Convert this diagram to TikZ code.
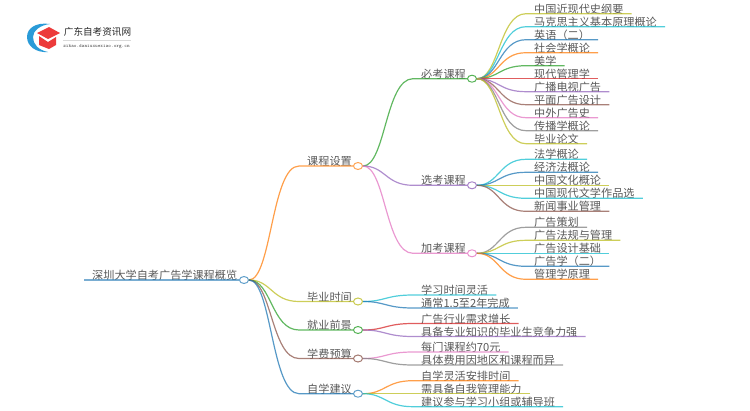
\documentclass[tikz,border=0pt]{standalone}
\usepackage{fontspec}
\setmainfont{Noto Sans CJK SC}
\usepackage{tikz}
\usetikzlibrary{calc,shapes.geometric}

\definecolor{cblue}{HTML}{1F77B4}
\definecolor{corange}{HTML}{FF7F0E}
\definecolor{cgreen}{HTML}{2CA02C}
\definecolor{cred}{HTML}{D62728}
\definecolor{cpurple}{HTML}{9467BD}
\definecolor{cbrown}{HTML}{8C564B}
\definecolor{cpink}{HTML}{E377C2}
\definecolor{cgray}{HTML}{7F7F7F}
\definecolor{colive}{HTML}{BCBD22}
\definecolor{ccyan}{HTML}{17BECF}
\definecolor{clogo}{HTML}{2A9BD8}
\definecolor{ccap}{HTML}{EC3B3B}

\begin{document}
\begin{tikzpicture}[
  x=1pt,
  y=-1pt
]

  \path[use as bounding box] (0,0) rectangle (750,410);

  \tikzstyle{topic}=[anchor=south west,inner xsep=8pt,inner ysep=0pt,text depth=.3pt,font=\fontsize{11.15pt}{13pt}\selectfont,text=black!65]
  \tikzstyle{dot}=[draw,ellipse,fill=white,line width=1pt,minimum width=9pt,minimum height=7pt,inner sep=0pt]
  \tikzstyle{link}=[draw,line width=1.2pt,opacity=.75,to path={let \p1=(\tikztostart), \p2=(\tikztotarget) in .. controls ({.5*(\x1+\x2)},\y1) and ({.5*(\x1+\x2)},\y2) .. (\tikztotarget)}]

  % logo
  \fill[clogo] (50,24) .. controls (36,22) and (27,28) .. (27,37) .. controls (27,46) and (36,53) .. (48,52) .. controls (38,50) and (33,44) .. (33,37) .. controls (33,31) and (40,25) .. (50,24) -- cycle;
  \fill[ccap] (37,33) -- (49,27) -- (60,33) -- (48,39) -- cycle;
  \fill[ccap] (39,36) -- (48,42) -- (56,37) -- (56,45) -- (49,49) -- (39,45) -- cycle;
  \node[font=\fontsize{9.6pt}{12pt}\selectfont,text=black!85,inner sep=0pt] (logotitle) at (97.5,32) {广东自考资讯网};
  \node[font=\fontsize{5pt}{6pt}\ttfamily,text=black!70,inner sep=0pt] (logourl) at (96.5,46.7) {zikao.daniuxuexiao.org.cn};
  \coordinate (logoa) at (63,40.5);
  \coordinate (logob) at (131,40.5);
  \draw[black!15,line width=.5pt] (logoa) -- (logob);

  % nodes
  \node[topic] (root) at (84,280) {深圳大学自考广告学课程概览};
  \node[dot,draw=cblue!70] (rootdot) at (244,280) {};

  \node[topic] (plan) at (299,166) {课程设置};
  \node[dot,draw=corange!70] (plandot) at (358,166) {};
  \node[topic] (grad) at (299,301.5) {毕业时间};
  \node[dot,draw=colive!80] (graddot) at (358,301.5) {};
  \node[topic] (job) at (299,330) {就业前景};
  \node[dot,draw=cgreen!80] (jobdot) at (358,330) {};
  \node[topic] (fee) at (299,358.5) {学费预算};
  \node[dot,draw=cbrown!80] (feedot) at (358,358.5) {};
  \node[topic] (tip) at (299,393.7) {自学建议};
  \node[dot,draw=cblue!70] (tipdot) at (358,393.7) {};

  \node[topic] (must) at (413,78.7) {必考课程};
  \node[dot,draw=cgreen!80] (mustdot) at (472,78.7) {};
  \node[topic] (opt) at (413,185.3) {选考课程};
  \node[dot,draw=cpurple!80] (optdot) at (472,185.3) {};
  \node[topic] (add) at (413,253.3) {加考课程};
  \node[dot,draw=cpink!80] (adddot) at (472,253.3) {};

  \node[topic] (m1) at (526,13.7) {中国近现代史纲要};
  \node[topic] (m2) at (526,26.7) {马克思主义基本原理概论};
  \node[topic] (m3) at (526,39.7) {英语（二）};
  \node[topic] (m4) at (526,52.7) {社会学概论};
  \node[topic] (m5) at (526,65.7) {美学};
  \node[topic] (m6) at (526,78.7) {现代管理学};
  \node[topic] (m7) at (526,91.7) {广播电视广告};
  \node[topic] (m8) at (526,104.7) {平面广告设计};
  \node[topic] (m9) at (526,117.7) {中外广告史};
  \node[topic] (m10) at (526,130.7) {传播学概论};
  \node[topic] (m11) at (526,143.7) {毕业论文};

  \node[topic] (o1) at (526,159.3) {法学概论};
  \node[topic] (o2) at (526,172.3) {经济法概论};
  \node[topic] (o3) at (526,185.3) {中国文化概论};
  \node[topic] (o4) at (526,198.3) {中国现代文学作品选};
  \node[topic] (o5) at (526,211.3) {新闻事业管理};

  \node[topic] (a1) at (526,227.3) {广告策划};
  \node[topic] (a2) at (526,240.3) {广告法规与管理};
  \node[topic] (a3) at (526,253.3) {广告设计基础};
  \node[topic] (a4) at (526,266.3) {广告学（二）};
  \node[topic] (a5) at (526,279.3) {管理学原理};

  \node[topic] (g1) at (413,295) {学习时间灵活};
  \node[topic] (g2) at (413,308) {通常1.5至2年完成};
  \node[topic] (j1) at (413,323.5) {广告行业需求增长};
  \node[topic] (j2) at (413,336.5) {具备专业知识的毕业生竞争力强};
  \node[topic] (f1) at (413,352) {每门课程约70元};
  \node[topic] (f2) at (413,365) {具体费用因地区和课程而异};
  \node[topic] (t1) at (413,380.7) {自学灵活安排时间};
  \node[topic] (t2) at (413,393.7) {需具备自我管理能力};
  \node[topic] (t3) at (413,406.7) {建议参与学习小组或辅导班};

  % links
  \draw[cblue,line width=2pt,opacity=.6] (root.south west) -- (rootdot);

  \draw[link,corange] (rootdot) to (plan.south west) -- (plandot);
  \draw[link,colive] (rootdot) to (grad.south west) -- (graddot);
  \draw[link,cgreen] (rootdot) to (job.south west) -- (jobdot);
  \draw[link,cbrown] (rootdot) to (fee.south west) -- (feedot);
  \draw[link,cblue] (rootdot) to (tip.south west) -- (tipdot);

  \draw[link,cgreen] (plandot) to (must.south west) -- (mustdot);
  \draw[link,cpurple] (plandot) to (opt.south west) -- (optdot);
  \draw[link,cpink] (plandot) to (add.south west) -- (adddot);

  \draw[link,colive] (mustdot) to (m1.south west) -- (m1.south east);
  \draw[link,ccyan] (mustdot) to (m2.south west) -- (m2.south east);
  \draw[link,cblue] (mustdot) to (m3.south west) -- (m3.south east);
  \draw[link,corange] (mustdot) to (m4.south west) -- (m4.south east);
  \draw[link,cgreen] (mustdot) to (m5.south west) -- (m5.south east);
  \draw[link,cred] (mustdot) to (m6.south west) -- (m6.south east);
  \draw[link,cpurple] (mustdot) to (m7.south west) -- (m7.south east);
  \draw[link,cbrown] (mustdot) to (m8.south west) -- (m8.south east);
  \draw[link,cpink] (mustdot) to (m9.south west) -- (m9.south east);
  \draw[link,cgray] (mustdot) to (m10.south west) -- (m10.south east);
  \draw[link,colive] (mustdot) to (m11.south west) -- (m11.south east);

  \draw[link,ccyan] (optdot) to (o1.south west) -- (o1.south east);
  \draw[link,cblue] (optdot) to (o2.south west) -- (o2.south east);
  \draw[link,colive] (optdot) to (o3.south west) -- (o3.south east);
  \draw[link,ccyan] (optdot) to (o4.south west) -- (o4.south east);
  \draw[link,cbrown] (optdot) to (o5.south west) -- (o5.south east);

  \draw[link,cgray] (adddot) to (a1.south west) -- (a1.south east);
  \draw[link,colive] (adddot) to (a2.south west) -- (a2.south east);
  \draw[link,ccyan] (adddot) to (a3.south west) -- (a3.south east);
  \draw[link,cblue] (adddot) to (a4.south west) -- (a4.south east);
  \draw[link,corange] (adddot) to (a5.south west) -- (a5.south east);

  \draw[link,ccyan] (graddot) to (g1.south west) -- (g1.south east);
  \draw[link,cblue] (graddot) to (g2.south west) -- (g2.south east);
  \draw[link,cred] (jobdot) to (j1.south west) -- (j1.south east);
  \draw[link,cpurple] (jobdot) to (j2.south west) -- (j2.south east);
  \draw[link,cpink] (feedot) to (f1.south west) -- (f1.south east);
  \draw[link,cgray] (feedot) to (f2.south west) -- (f2.south east);
  \draw[link,corange] (tipdot) to (t1.south west) -- (t1.south east);
  \draw[link,colive] (tipdot) to (t2.south west) -- (t2.south east);
  \draw[link,ccyan] (tipdot) to (t3.south west) -- (t3.south east);

\end{tikzpicture}
\end{document}
